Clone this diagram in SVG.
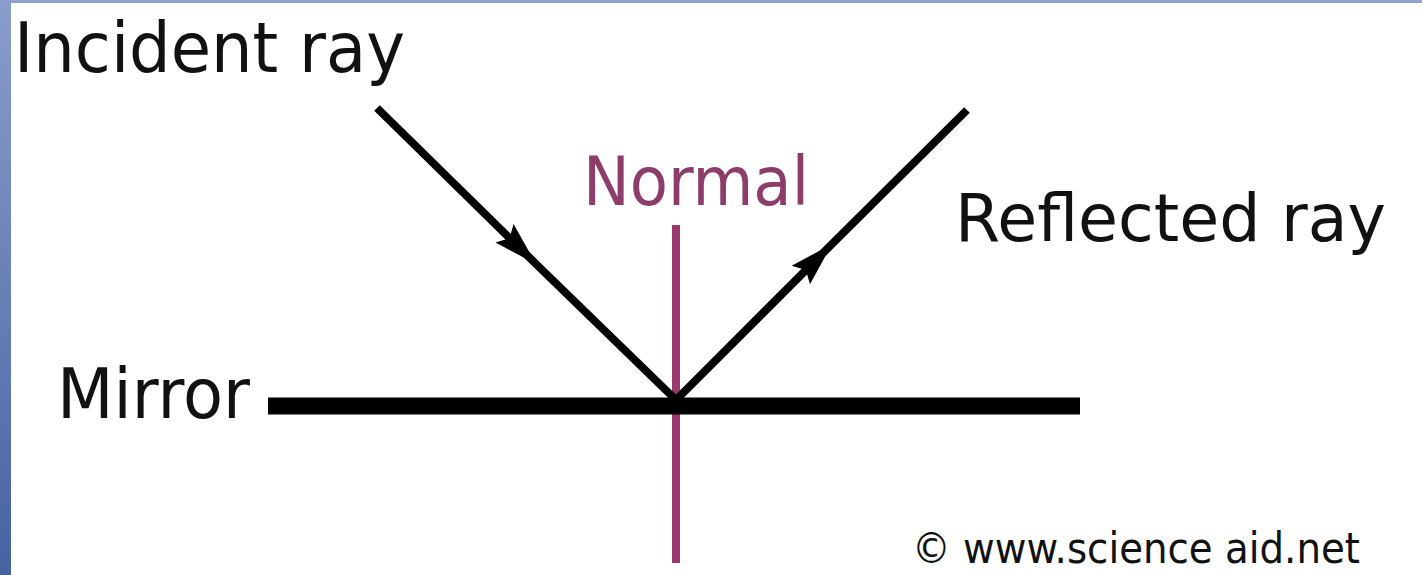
<svg xmlns="http://www.w3.org/2000/svg" width="1422" height="575" viewBox="0 0 1422 575">
  <defs>
    <linearGradient id="edge" x1="0" y1="0" x2="0" y2="1">
      <stop offset="0" stop-color="#8a9dcb"/>
      <stop offset="1" stop-color="#4862a2"/>
    </linearGradient>
    <marker id="arrow" markerUnits="userSpaceOnUse" markerWidth="48" markerHeight="32" viewBox="0 -16 48 32" refX="44" refY="0" orient="auto">
      <path d="M0,-13 L44,0 L0,13 L7,0 Z" fill="#000"/>
    </marker>
    <style>
      .lbl { font-family: "DejaVu Sans", Verdana, sans-serif; fill: #111; }
      .ray { stroke: #000; stroke-width: 8; fill: none; stroke-linecap: butt; }
    </style>
  </defs>
  <rect x="0" y="0" width="1422" height="575" fill="#ffffff"/>
  <rect x="0" y="0" width="1422" height="3" fill="#90a3cc"/>
  <rect x="0" y="0" width="11" height="575" fill="url(#edge)"/>

  <g id="connectors">
    <line id="normal-line" x1="676" y1="225" x2="676" y2="563" stroke="#9a3a6c" stroke-width="8"/>
    <line id="mirror-line" x1="268" y1="406" x2="1080" y2="406" stroke="#000" stroke-width="17"/>
    <polyline id="incident" class="ray" points="377,108 536,264 676,400" marker-mid="url(#arrow)"/>
    <polyline id="reflected" class="ray" points="676,400 832,244 967,110" marker-mid="url(#arrow)"/>
  </g>

  <g id="incident-label">
    <text class="lbl" x="14" y="72" font-size="70" textLength="391" lengthAdjust="spacingAndGlyphs">Incident ray</text>
  </g>
  <g id="normal-label">
    <text x="583" y="205" font-size="68" font-family="DejaVu Sans, Verdana, sans-serif" fill="#8c3d6a" textLength="226" lengthAdjust="spacingAndGlyphs">Normal</text>
  </g>
  <g id="reflected-label">
    <text class="lbl" x="955" y="241" font-size="66" textLength="431" lengthAdjust="spacingAndGlyphs">Reflected ray</text>
  </g>
  <g id="mirror-label">
    <text class="lbl" x="57" y="418" font-size="70" textLength="193" lengthAdjust="spacingAndGlyphs">Mirror</text>
  </g>
  <g id="credit">
    <text class="lbl" x="912" y="563" font-size="42" textLength="448" lengthAdjust="spacingAndGlyphs">© www.science aid.net</text>
  </g>
</svg>
